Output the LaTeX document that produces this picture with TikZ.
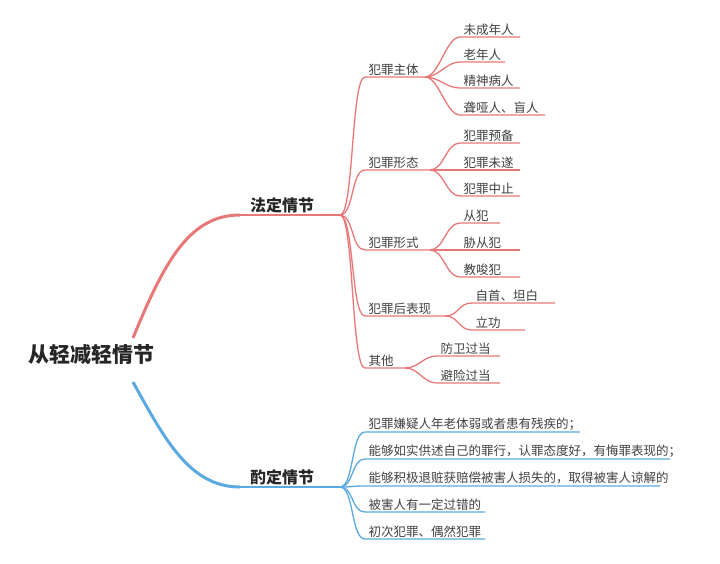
\documentclass[tikz,border=0pt]{standalone}
\usepackage{fontspec}
\setmainfont{Noto Sans CJK SC}
\begin{document}
\begin{tikzpicture}[x=1pt,y=-1pt,
  lbl/.style={anchor=south west,inner sep=1.5pt,text=black!75,font=\fontsize{12.5}{14}\selectfont},
  rl/.style={draw=red!55!white!95!black,line width=1.3pt,color={rgb,255:red,232;green,120;blue,120}},
  bl/.style={line width=1.3pt,color={rgb,255:red,90;green,170;blue,225}}]
\useasboundingbox (0,0) rectangle (720,563);
\newcommand\leaf[7]{%
  \coordinate (#2s) at (#3,#4); \coordinate (#2) at (#5,#4);
  \node[lbl] (#2t) at (#3+2,#4) {#6};
  \draw[#7] (#1) .. controls +(14,0) and +(-14,0) .. (#2s) -- (#2);}
\node[font=\fontsize{21}{24}\selectfont\bfseries,text=black!85,anchor=west,inner sep=0pt] (root) at (28,355) {从轻减轻情节};
% main red
\coordinate (r0) at (133,338);
\coordinate (fs) at (240,215); \coordinate (f) at (340,215);
\node[font=\fontsize{16}{18}\selectfont\bfseries,text=black!85,anchor=south west,inner sep=2pt] (ft) at (248,215) {法定情节};
\draw[rl,line width=3pt] (r0) .. controls (165,260) and (190,215) .. (fs);
\draw[rl,line width=2pt] (fs) -- (f);
% main blue
\coordinate (b0) at (133,382);
\coordinate (zs) at (240,487); \coordinate (z) at (340,487);
\node[font=\fontsize{16}{18}\selectfont\bfseries,text=black!85,anchor=south west,inner sep=2pt] (zt) at (248,487) {酌定情节};
\draw[bl,line width=3pt] (b0) .. controls (165,440) and (190,487) .. (zs);
\draw[bl,line width=2pt] (zs) -- (z);
% red level 2
\leaf{f}{a}{365}{77}{425}{犯罪主体}{rl}
\leaf{f}{b}{365}{170}{430}{犯罪形态}{rl}
\leaf{f}{c}{365}{250}{430}{犯罪形式}{rl}
\leaf{f}{d}{365}{316}{445}{犯罪后表现}{rl}
\leaf{f}{e}{365}{368}{405}{其他}{rl}
% leaves
\leaf{a}{a1}{460}{37}{520}{未成年人}{rl}
\leaf{a}{a2}{460}{62}{505}{老年人}{rl}
\leaf{a}{a3}{460}{88}{520}{精神病人}{rl}
\leaf{a}{a4}{460}{115}{545}{聋哑人、盲人}{rl}
\leaf{b}{b1}{460}{143}{520}{犯罪预备}{rl}
\leaf{b}{b2}{460}{170}{520}{犯罪未遂}{rl}
\leaf{b}{b3}{460}{196}{520}{犯罪中止}{rl}
\leaf{c}{c1}{460}{223}{500}{从犯}{rl}
\leaf{c}{c2}{460}{250}{520}{胁从犯}{rl}
\leaf{c}{c3}{460}{277}{520}{教唆犯}{rl}
\leaf{d}{d1}{472}{303}{555}{自首、坦白}{rl}
\leaf{d}{d2}{472}{330}{525}{立功}{rl}
\leaf{e}{e1}{437}{356}{500}{防卫过当}{rl}
\leaf{e}{e2}{437}{383}{500}{避险过当}{rl}
% blue leaves
\leaf{z}{z1}{365}{432}{580}{犯罪嫌疑人年老体弱或者患有残疾的；}{bl}
\leaf{z}{z2}{365}{459}{670}{能够如实供述自己的罪行，认罪态度好，有悔罪表现的；}{bl}
\leaf{z}{z3}{365}{486}{660}{能够积极退赃获赔偿被害人损失的，取得被害人谅解的}{bl}
\leaf{z}{z4}{365}{512}{485}{被害人有一定过错的}{bl}
\leaf{z}{z5}{365}{539}{485}{初次犯罪、偶然犯罪}{bl}
\end{tikzpicture}
\end{document}
